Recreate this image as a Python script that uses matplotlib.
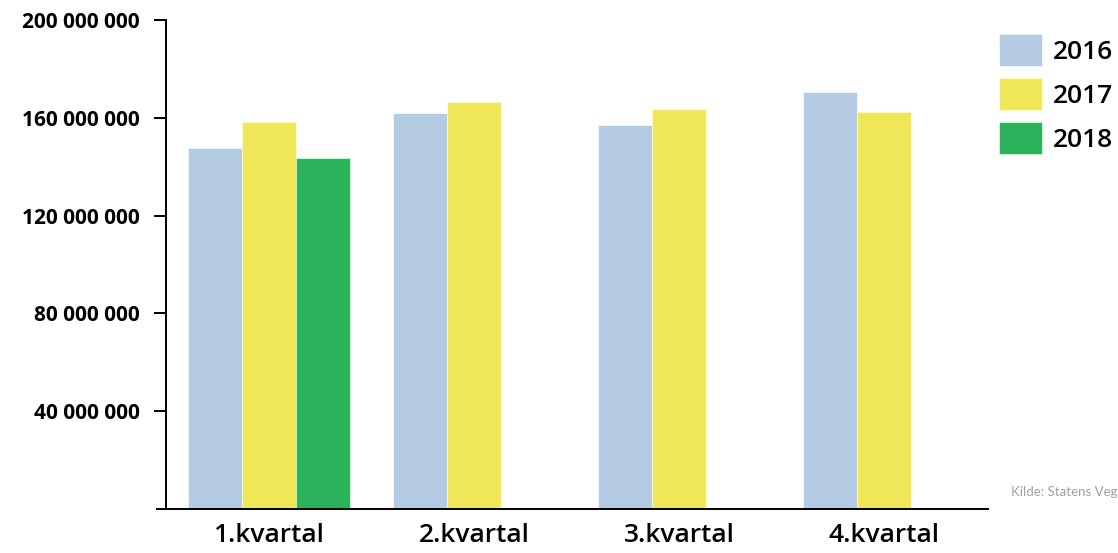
import numpy as np
import matplotlib
matplotlib.use("Agg")
import matplotlib.pyplot as plt

# kvartalstall per år
kvartal = ["1.kvartal", "2.kvartal", "3.kvartal", "4.kvartal"]
aar = ["2016", "2017", "2018"]
verdier_2016 = [147_700_000, 162_100_000, 157_200_000, 170_600_000]
verdier_2017 = [158_300_000, 166_600_000, 163_800_000, 162_400_000]
verdier_2018 = [143_700_000, None, None, None]
farger = ["#b5cbe3", "#efe658", "#2db25c"]
yticks = [40_000_000, 80_000_000, 120_000_000, 160_000_000, 200_000_000]

plt.rcParams["font.family"] = ["Open Sans", "DejaVu Sans"]

fig = plt.figure(figsize=(11.18, 5.53), dpi=100)
ax = fig.add_axes([157 / 1118, 44 / 553, 831 / 1118, 489 / 553])

# aksestreker først, siden set_position lager tickene på nytt
for s in ["top", "right"]:
    ax.spines[s].set_visible(False)
ax.spines["left"].set_position(("data", -0.502))
ax.spines["left"].set_linewidth(1.4)
ax.spines["bottom"].set_linewidth(1.4)

bredde = 0.263
x = np.arange(len(kvartal))
for i, (serie, farge, navn) in enumerate(zip([verdier_2016, verdier_2017, verdier_2018], farger, aar)):
    xs = [xi + (i - 1) * bredde for xi, v in zip(x, serie) if v is not None]
    ys = [v for v in serie if v is not None]
    ax.bar(xs, ys, width=bredde, color=farge, label=navn, edgecolor="white", linewidth=0.4)

ax.set_xlim(-0.546, 3.507)
ax.set_ylim(0, 200_000_000)
ax.tick_params(axis="x", length=0, pad=10)
ax.tick_params(axis="y", length=9, width=1.4, pad=10)
ax.set_yticks(yticks, [f"{v:,}".replace(",", " ") for v in yticks],
              fontsize=15, fontweight="bold")
ax.set_xticks(x, kvartal, fontsize=19, fontweight="semibold")

fig.legend(loc="upper left", bbox_to_anchor=(999 / 1118, 1 - 34 / 553),
           frameon=False, handlelength=1.63, handleheight=1.5,
           handletextpad=0.4, labelspacing=0.45, borderpad=0, borderaxespad=0,
           prop={"weight": "semibold", "size": 19})

fig.text(1011 / 1118, 1 - 492 / 553, "Kilde: Statens Veg", fontsize=9.5,
         family=["Lato", "DejaVu Sans"], color="#a0a0a0", va="center", ha="left")

fig.savefig("out.png", dpi=100)
